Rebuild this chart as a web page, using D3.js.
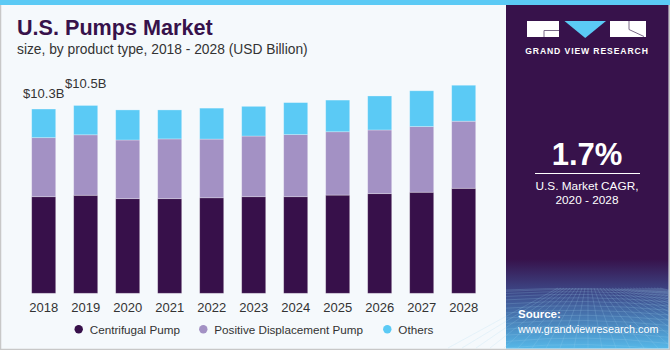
<!DOCTYPE html>
<html><head><meta charset="utf-8">
<script src="https://cdn.jsdelivr.net/npm/d3@7/dist/d3.min.js"></script>
<style>html,body{margin:0;padding:0;background:#fff;}svg{display:block;}</style>
</head><body>
<script>
const years = ["2018","2019","2020","2021","2022","2023","2024","2025","2026","2027","2028"];
const centrifugal = [5.40,5.48,5.29,5.29,5.34,5.40,5.40,5.49,5.57,5.65,5.87];
const positiveDisplacement = [3.30,3.38,3.28,3.34,3.28,3.39,3.47,3.54,3.56,3.67,3.75];
const others = [1.60,1.64,1.68,1.62,1.73,1.66,1.79,1.77,1.90,2.00,2.01];
const seriesNames = ["Centrifugal Pump","Positive Displacement Pump","Others"];
const valueLabels = [{year:"2018", text:"$10.3B", lift:11},{year:"2019", text:"$10.5B", lift:17}];
const cagrText = "1.7%";

const W = 670, H = 350;
const colors = ["#37104a","#a391c4","#5bcaf5"];
const font = "'Liberation Sans', Arial, sans-serif";

const svg = d3.select("body").append("svg").attr("width", W).attr("height", H);
const defs = svg.append("defs");

// background
svg.append("rect").attr("width", W).attr("height", H).attr("fill", "#f5f9fc");
svg.append("rect").attr("x",0.5).attr("y",0.5).attr("width",W-1).attr("height",H-1)
  .attr("fill","none").attr("stroke","#c8c8c8").attr("stroke-width",1.5);

// right panel
const px = 506;
const g2 = defs.append("linearGradient").attr("id","pg").attr("x1",0).attr("y1",0).attr("x2",0).attr("y2",1);
g2.append("stop").attr("offset","0").attr("stop-color","#37124b");
g2.append("stop").attr("offset","0.74").attr("stop-color","#37124b");
g2.append("stop").attr("offset","0.84").attr("stop-color","#3d4a8a");
g2.append("stop").attr("offset","1").attr("stop-color","#56b8e8");
svg.append("rect").attr("x",px).attr("y",5).attr("width",W-px-1.5).attr("height",H-5-1.5).attr("fill","url(#pg)");

// grid texture at bottom of panel
const grid = svg.append("g").attr("stroke","#9fd4f0").attr("stroke-opacity",0.28).attr("stroke-width",0.7).attr("fill","none");
for (let i=0;i<14;i++){
  const yy = 290 + Math.pow(i/13,1.5)*58;
  grid.append("path").attr("d",`M${px},${yy} Q${px+80},${yy-4 - i*0.3} ${W-2},${yy+2}`);
}
for (let i=-10;i<=24;i++){
  const x0 = px+82 + i*3, x1 = px+82 + i*14;
  grid.append("line").attr("x1",x0).attr("y1",288).attr("x2",x1).attr("y2",348);
}

// top strip
svg.append("rect").attr("x",0).attr("y",0).attr("width",W).attr("height",5).attr("fill","#5bcaf5");

// logo
const logo = svg.append("g");
logo.append("rect").attr("x",527).attr("y",21).attr("width",32).attr("height",16).attr("fill","#fff");
logo.append("path").attr("d","M544,30.5H559M544,30.5V37").attr("stroke","#7a6a88").attr("stroke-width",1).attr("fill","none");
logo.append("path").attr("d","M564.5,21H606L585.2,38Z").attr("fill","#5bcaf5");
logo.append("rect").attr("x",610).attr("y",21).attr("width",36).attr("height",16).attr("fill","#fff");
logo.append("path").attr("d","M629,29.5L644,36.5M629,29.5V21").attr("stroke","#7a6a88").attr("stroke-width",1).attr("fill","none");
svg.append("text").attr("x",587).attr("y",53.5).attr("text-anchor","middle")
  .attr("font-family",font).attr("font-weight","bold").attr("font-size",8.6).attr("letter-spacing",0.9)
  .attr("fill","#fff").text("GRAND VIEW RESEARCH");

// CAGR
svg.append("text").attr("x",587).attr("y",165).attr("text-anchor","middle")
  .attr("font-family",font).attr("font-weight","bold").attr("font-size",31).attr("fill","#fff").text(cagrText);
svg.append("line").attr("x1",535).attr("x2",640).attr("y1",173.5).attr("y2",173.5).attr("stroke","#fff").attr("stroke-width",1);
svg.append("text").attr("x",587).attr("y",190).attr("text-anchor","middle")
  .attr("font-family",font).attr("font-size",11.8).attr("fill","#fff").text("U.S. Market CAGR,");
svg.append("text").attr("x",587).attr("y",204).attr("text-anchor","middle")
  .attr("font-family",font).attr("font-size",11.8).attr("fill","#fff").text("2020 - 2028");
svg.append("text").attr("x",518).attr("y",318).attr("font-family",font).attr("font-weight","bold")
  .attr("font-size",11.5).attr("fill","#fff").text("Source:");
svg.append("text").attr("x",518).attr("y",333).attr("font-family",font)
  .attr("font-size",10.8).attr("fill","#fff").text("www.grandviewresearch.com");

// titles
svg.append("text").attr("x",17).attr("y",35).attr("font-family",font).attr("font-weight","900")
  .attr("font-size",21.6).attr("fill","#37124b").text("U.S. Pumps Market");
svg.append("text").attr("x",17).attr("y",54).attr("font-family",font)
  .attr("font-size",13.8).attr("fill","#333").text("size, by product type, 2018 - 2028 (USD Billion)");

// chart
const x = d3.scaleBand().domain(years).range([22.7,484.7]).paddingInner(0.428).paddingOuter(0.214);
const y = d3.scaleLinear().domain([0,12]).range([293.3, 293.3-12*17.89]);

const rows = years.map((yr,i)=>({year:yr, c:centrifugal[i], p:positiveDisplacement[i], o:others[i]}));
const stack = d3.stack().keys(["c","p","o"])(rows);

svg.append("g").selectAll("g").data(stack).join("g")
  .attr("fill",(d,i)=>colors[i])
  .selectAll("rect").data(d=>d).join("rect")
  .attr("x",d=>x(d.data.year)).attr("width",x.bandwidth())
  .attr("y",d=>y(d[1])).attr("height",d=>y(d[0])-y(d[1]))
  .attr("stroke","#ffffff").attr("stroke-opacity",0.35).attr("stroke-width",0.8);

// x axis
const xa = svg.append("g").attr("transform","translate(0,293.3)")
  .call(d3.axisBottom(x).tickSize(0).tickPadding(9));
xa.select(".domain").remove();
xa.selectAll("text").attr("font-family",font).attr("font-size",13).attr("fill","#333");

// value labels
const totals = {};
rows.forEach(r=>totals[r.year]=r.c+r.p+r.o);
svg.append("g").selectAll("text").data(valueLabels).join("text")
  .attr("x",d=>x(d.year)+x.bandwidth()/2).attr("y",d=>y(totals[d.year])-d.lift)
  .attr("text-anchor","middle").attr("font-family",font).attr("font-size",13).attr("fill","#333")
  .text(d=>d.text);

// legend
const legX = [78.7, 203.3, 387.3];
const leg = svg.append("g").selectAll("g").data(seriesNames).join("g")
  .attr("transform",(d,i)=>`translate(${legX[i]},329.3)`);
leg.append("circle").attr("r",4.2).attr("fill",(d,i)=>colors[i]);
leg.append("text").attr("x",11).attr("y",4.5).attr("font-family",font).attr("font-size",11.7)
  .attr("fill","#333").text(d=>d);
</script>
</body></html>
